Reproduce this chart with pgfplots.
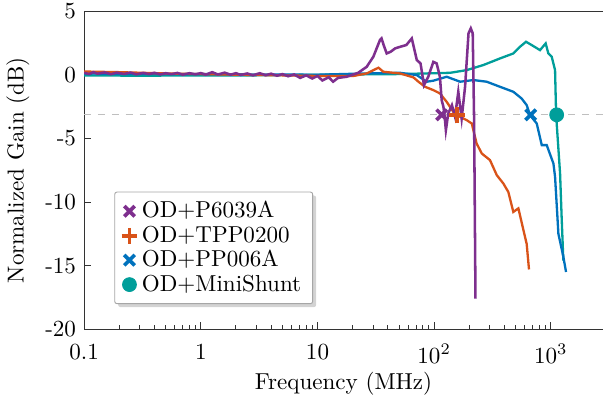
\documentclass[border=0pt]{standalone}
\usepackage{pgfplots}
\pgfplotsset{compat=1.18}
\usetikzlibrary{shadows}
\definecolor{cpurple}{RGB}{126,47,142}
\definecolor{corange}{RGB}{217,83,25}
\definecolor{cblue}{RGB}{0,114,189}
\definecolor{cteal}{RGB}{0,158,154}
\begin{document}
\begin{tikzpicture}
\begin{axis}[
  name=ax,
  scale only axis,
  width=225pt, height=138pt,
  xmode=log,
  xmin=0.1, xmax=2800,
  ymin=-20, ymax=5,
  axis lines*=left,
  axis line style={-, black!80},
  tick align=inside,
  major tick length=3pt,
  minor tick length=1.8pt,
  every tick/.style={black!80},
  xtick={0.1,1,10,100,1000},
  xticklabels={0.1,1,10,$10^2$,$10^3$},
  xticklabel style={yshift=-3pt},
  ytick={-20,-15,-10,-5,0,5},
  yticklabels={-20,-15,-10,-5,0,5},
  xlabel={Frequency (MHz)},
  xlabel style={yshift=3pt},
  ylabel={Normalized Gain (dB)},
  legend cell align=left,
  legend style={at={(0.058,0.079)}, anchor=south west, draw=black!35, rounded corners=1pt, drop shadow={shadow xshift=1.5pt, shadow yshift=-1.5pt, opacity=0.35}, fill=white, row sep=-2pt, inner ysep=2pt, inner xsep=3pt},
  after end axis/.code={\draw[black!80] (rel axis cs:0,1) -- (rel axis cs:1,1);},
]
\addplot[forget plot, gray!50, dashed, line width=0.6pt] coordinates {(0.1,-3.15) (2800,-3.15)};
\addplot[forget plot, cteal, line width=1pt] coordinates {(0.1,-0.05)(0.3,-0.08)(1,-0.05)(3,-0.05)(10,0.0)(50,0.05)(86,0.1)(137,0.15)(190,0.36)(264,0.76)(367,1.28)(477,1.67)(545,2.2)(613,2.59)(708,2.25)(808,1.93)(903,2.46)(952,1.67)(1017,1.41)(1087,0.36)(1110,-3.18)(1200,-7.76)(1240,-11.4)(1280,-14.6)};
\addplot[forget plot, cblue, line width=1pt] coordinates {(0.1,0.1)(0.3,0.05)(1,0.05)(3,0.02)(10,0.0)(26,0.1)(51,0.15)(71,-0.03)(86.3,-0.55)(98.4,-0.47)(128,-0.16)(167,-0.55)(217,-0.42)(282,-0.55)(367,-0.95)(477,-1.34)(562,-1.87)(621,-2.39)(663,-3.18)(757,-3.83)(836,-5.53)(922,-5.53)(1052,-6.97)(1087,-8.02)(1161,-12.5)(1280,-14.3)(1350,-15.5)};
\addplot[forget plot, corange, line width=1pt] coordinates {(0.1,0.25)(0.2,0.2)(0.5,0.1)(1,0.05)(2,0.0)(5,-0.05)(10,-0.1)(20.3,-0.1)(26.4,0.1)(33.3,0.55)(36.7,0.23)(51,0.1)(66.4,-0.21)(73.3,-0.55)(83.6,-0.95)(98.4,-1.21)(112,-1.47)(128,-2.13)(146,-2.92)(167,-3.31)(190,-3.57)(210,-3.83)(231,-5.4)(256,-6.19)(301,-6.71)(344,-7.89)(392,-8.55)(432,-9.21)(477,-10.78)(527,-10.5)(582,-12.2)(621,-13.3)(650,-15.3)};
\addplot[forget plot, cpurple, line width=1.1pt] coordinates {(0.1,0.15)(0.11,0.05)(0.12,0.2)(0.13,0.08)(0.15,0.18)(0.17,0.04)(0.19,0.16)(0.22,0.06)(0.25,0.17)(0.28,0.03)(0.32,0.14)(0.36,0.05)(0.4,0.15)(0.45,0.02)(0.5,0.12)(0.56,0.04)(0.63,0.14)(0.7,0.0)(0.8,0.12)(0.9,0.03)(1.0,0.13)(1.1,0.0)(1.25,0.2)(1.4,0.02)(1.6,0.16)(1.8,0.0)(2.0,0.12)(2.2,-0.02)(2.5,0.1)(2.8,-0.05)(3.2,0.12)(3.6,-0.04)(4,0.08)(4.5,-0.08)(5,0.05)(5.6,-0.12)(6.3,0.02)(7.1,-0.25)(8,-0.05)(9,-0.3)(10,-0.1)(11,-0.45)(12.5,-0.2)(13.6,-0.55)(15,-0.25)(17.8,-0.16)(20,0.0)(22.3,0.15)(26.4,0.62)(30.1,1.41)(34.3,2.72)(35.4,2.85)(37,2.3)(39.2,1.67)(42.3,1.8)(46.3,2.07)(51,2.19)(57.7,2.33)(64.3,2.85)(71,1.15)(76.4,0.89)(81.8,-0.82)(89,-0.16)(98.4,1.01)(105,0.89)(112,-0.16)(116,-2.0)(120,-2.52)(123,-3.3)(126,-4.36)(132,-3.05)(142,-2.39)(151,-3.31)(161,-1.34)(172,-3.44)(184,-0.95)(197,3.25)(206,3.64)(214,3.25)(220,-3.57)(226,-17.6)};
\addplot[only marks, cpurple, mark=x, mark size=3.2pt, line width=1.6pt] coordinates {(116,-3.15)};
\addlegendentry{OD+P6039A}
\addplot[only marks, corange, mark=+, mark size=3.4pt, line width=1.6pt] coordinates {(156,-3.15)};
\addlegendentry{OD+TPP0200}
\addplot[only marks, cblue, mark=x, mark size=3.2pt, line width=1.6pt] coordinates {(672,-3.15)};
\addlegendentry{OD+PP006A}
\addplot[only marks, cteal, mark=*, mark size=3pt] coordinates {(1122,-3.15)};
\addlegendentry{OD+MiniShunt}
\end{axis}
\pgfresetboundingbox
\path ([xshift=-36.5pt, yshift=-30.9pt]ax.south west) rectangle ([yshift=4.8pt]ax.north east);
\end{tikzpicture}
\end{document}
